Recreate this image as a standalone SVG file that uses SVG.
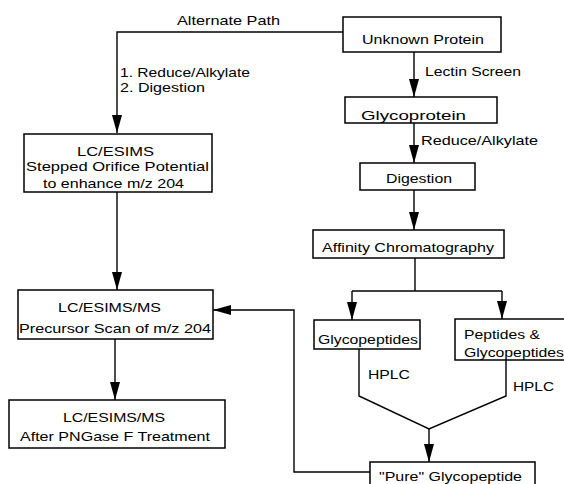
<svg xmlns="http://www.w3.org/2000/svg" width="564" height="484" viewBox="0 0 564 484">
<defs>
<style>
.box{fill:#fff;stroke:#000;stroke-width:1.5}
.ln{fill:none;stroke:#000;stroke-width:1.4}
text{font-family:"Liberation Sans",Arial,sans-serif;font-size:13px;fill:#000}
</style>
<marker id="ah" viewBox="0 0 18 10" refX="18" refY="5" markerWidth="18" markerHeight="10" markerUnits="userSpaceOnUse" orient="auto">
<path d="M0,0 L18,5 L0,10 z" fill="#000"/>
</marker>
</defs>
<rect width="564" height="484" fill="#fff"/>
<g id="connectors">
<polyline class="ln" points="343,32 117,32 117,133" marker-end="url(#ah)"/>
<line class="ln" x1="414" y1="52" x2="414" y2="97" marker-end="url(#ah)"/>
<line class="ln" x1="414" y1="123" x2="414" y2="163" marker-end="url(#ah)"/>
<line class="ln" x1="414" y1="190" x2="414" y2="230" marker-end="url(#ah)"/>
<line class="ln" x1="117" y1="192" x2="117" y2="290" marker-end="url(#ah)"/>
<line class="ln" x1="115" y1="339" x2="115" y2="400" marker-end="url(#ah)"/>
<line class="ln" x1="415" y1="258" x2="415" y2="291"/>
<line class="ln" x1="352" y1="291" x2="502" y2="291"/>
<line class="ln" x1="352" y1="291" x2="352" y2="320" marker-end="url(#ah)"/>
<line class="ln" x1="502" y1="291" x2="502" y2="319" marker-end="url(#ah)"/>
<polyline class="ln" points="359,349 359,396 429,429 506,396 506,360"/>
<line class="ln" x1="429" y1="429" x2="429" y2="462" marker-end="url(#ah)"/>
<polyline class="ln" points="370,472 294,472 294,310 213,310" marker-end="url(#ah)"/>
<text x="177" y="25" textLength="103" lengthAdjust="spacingAndGlyphs">Alternate Path</text>
<text x="120" y="77" textLength="130" lengthAdjust="spacingAndGlyphs">1. Reduce/Alkylate</text>
<text x="120" y="92" textLength="85" lengthAdjust="spacingAndGlyphs">2. Digestion</text>
<text x="425" y="76" textLength="96" lengthAdjust="spacingAndGlyphs">Lectin Screen</text>
<text x="421" y="145" textLength="117" lengthAdjust="spacingAndGlyphs">Reduce/Alkylate</text>
<text x="368" y="379" textLength="42" lengthAdjust="spacingAndGlyphs">HPLC</text>
<text x="513" y="391" textLength="41" lengthAdjust="spacingAndGlyphs">HPLC</text>
</g>
<g id="unknown-protein">
<rect class="box" x="343" y="17" width="158" height="35"/>
<text x="362" y="44" textLength="122" lengthAdjust="spacingAndGlyphs">Unknown Protein</text>
</g>
<g id="glycoprotein">
<rect class="box" x="345" y="97" width="152" height="26"/>
<text x="361" y="120" textLength="105" lengthAdjust="spacingAndGlyphs">Glycoprotein</text>
</g>
<g id="digestion">
<rect class="box" x="360" y="163" width="115" height="27"/>
<text x="386" y="183" textLength="66" lengthAdjust="spacingAndGlyphs">Digestion</text>
</g>
<g id="affinity">
<rect class="box" x="313" y="230" width="191" height="28"/>
<text x="322" y="252" textLength="172" lengthAdjust="spacingAndGlyphs">Affinity Chromatography</text>
</g>
<g id="lc-esims">
<rect class="box" x="24" y="134" width="188" height="58"/>
<text x="77" y="156" textLength="77" lengthAdjust="spacingAndGlyphs">LC/ESIMS</text>
<text x="26" y="171" textLength="183" lengthAdjust="spacingAndGlyphs">Stepped Orifice Potential</text>
<text x="43" y="188" textLength="141" lengthAdjust="spacingAndGlyphs">to enhance m/z 204</text>
</g>
<g id="precursor-scan">
<rect class="box" x="18" y="290" width="195" height="49"/>
<text x="58" y="312" textLength="103" lengthAdjust="spacingAndGlyphs">LC/ESIMS/MS</text>
<text x="19" y="333" textLength="192" lengthAdjust="spacingAndGlyphs">Precursor Scan of m/z 204</text>
</g>
<g id="pngase">
<rect class="box" x="9" y="400" width="216" height="48"/>
<text x="63" y="422" textLength="102" lengthAdjust="spacingAndGlyphs">LC/ESIMS/MS</text>
<text x="20" y="441" textLength="190" lengthAdjust="spacingAndGlyphs">After PNGase F Treatment</text>
</g>
<g id="glycopeptides">
<rect class="box" x="314" y="320" width="106" height="29"/>
<text x="318" y="344" textLength="100" lengthAdjust="spacingAndGlyphs">Glycopeptides</text>
</g>
<g id="peptides-glycopeptides">
<rect class="box" x="455" y="319" width="115" height="41"/>
<text x="464" y="339" textLength="76" lengthAdjust="spacingAndGlyphs">Peptides &amp;</text>
<text x="464" y="357" textLength="100" lengthAdjust="spacingAndGlyphs">Glycopeptides</text>
</g>
<g id="pure-glycopeptide">
<rect class="box" x="370" y="462" width="165" height="30"/>
<text x="379" y="481" textLength="143" lengthAdjust="spacingAndGlyphs">"Pure" Glycopeptide</text>
</g>
</svg>
